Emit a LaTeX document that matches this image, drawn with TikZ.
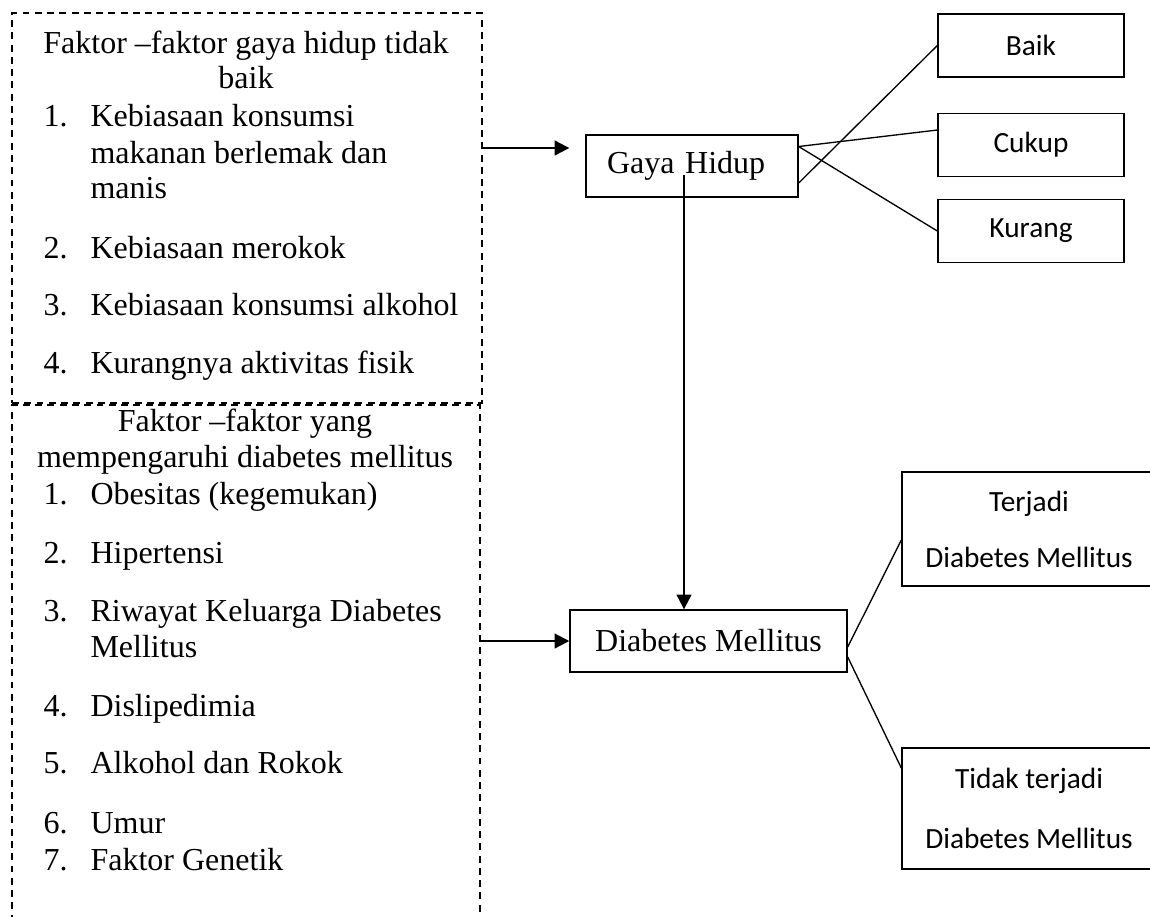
\documentclass[tikz,border=0pt]{standalone}
\usepackage{fontspec}
\setmainfont{Liberation Serif}
\newfontfamily\calfont{Carlito}
\usetikzlibrary{arrows.meta,calc}

\tikzset{
  dbox/.style={draw, dash pattern=on 2.6pt off 2pt, line width=0.4pt, inner sep=0pt},
  rbox/.style={draw, line width=0.5pt, inner sep=0pt, font=\fontsize{12}{14}\selectfont},
  obox/.style={rbox, minimum width=69.75pt, minimum height=23.6pt, font=\calfont\fontsize{11}{13}\selectfont},
  dmbox/.style={rbox, minimum width=95.25pt, align=center, font=\calfont\fontsize{11}{21}\selectfont},
  txt/.style={anchor=base west, inner sep=0pt, font=\fontsize{12}{14}\selectfont},
  ttl/.style={txt, anchor=base},
  arr/.style={-{Triangle[length=5.5pt,width=5.5pt]}, line width=0.75pt},
  ln/.style={line width=0.5pt}
}

\begin{document}
\begin{tikzpicture}[x=0.375pt, y=-0.375pt]
    \useasboundingbox (0,0) rectangle (1150,916);
    \node[dbox, minimum width=176.25pt, minimum height=146.25pt] (fak1) at (247,208) {};
    \node[dbox, minimum width=175.5pt, minimum height=193.9pt] (fak2) at (246,663.5) {};

    \node[ttl] (t1a) at (246,53) {Faktor –faktor gaya hidup tidak};
    \node[ttl] (t1b) at (246,88) {baik};
    \foreach \n/\y in {1/126,2/258,3/315,4/373}
        \node[txt] (gn\n) at (43,\y) {\n.};
    \foreach \y/\t [count=\i] in {126/Kebiasaan konsumsi, 163/makanan berlemak dan, 198/manis, 258/Kebiasaan merokok, 315/Kebiasaan konsumsi alkohol, 373/Kurangnya aktivitas fisik}
        \node[txt] (gt\i) at (90,\y) {\t};

    \node[ttl] (t2a) at (245,431) {Faktor –faktor yang};
    \node[ttl] (t2b) at (245,467) {mempengaruhi diabetes mellitus};
    \foreach \n/\y in {1/504,2/563,3/621,4/716,5/773,6/833,7/870}
        \node[txt] (dn\n) at (43,\y) {\n.};
    \foreach \y/\t [count=\i] in {504/Obesitas (kegemukan), 563/Hipertensi, 621/Riwayat Keluarga Diabetes, 657/Mellitus, 716/Dislipedimia, 773/Alkohol dan Rokok, 833/Umur, 870/Faktor Genetik}
        \node[txt] (dt\i) at (90,\y) {\t};

    \node[rbox, minimum width=79.5pt, minimum height=23.25pt, text width=63.7pt, inner xsep=7.9pt, align=left] (gaya) at (692,166) {Gaya Hidup};
    \node[rbox, minimum width=103.9pt, minimum height=23.25pt] (dm) at (708.5,641) {Diabetes Mellitus};
    \node[obox] (baik) at (1031,45.5) {Baik};
    \node[obox] (cukup) at (1031,145) {Cukup};
    \node[obox] (kurang) at (1031,231) {Kurang};
    \node[dmbox, minimum height=42.75pt] (ya) at (1029,529) {Terjadi\\Diabetes Mellitus};
    \node[dmbox, minimum height=45.4pt, font=\calfont\fontsize{11}{22.5}\selectfont] (tidak) at (1029,808.5) {Tidak terjadi\\Diabetes Mellitus};

    \coordinate (gin) at ($(gaya.west)+(-16,-18)$);
    \draw[arr] (fak1.east |- gin) -- (gin);
    \draw[arr] (fak2.east |- dm.west) -- (dm.west);
    \coordinate (vs) at ($(gaya.center)+(-8,9)$);
    \draw[arr] (vs) -- (vs |- dm.north);

    \coordinate (gout) at ($(gaya.east)+(0,-19.5)$);
    \draw[ln] ($(gaya.east)+(0,17)$) -- (baik.west);
    \draw[ln] (gout) -- ($(cukup.west)+(0,-15)$);
    \draw[ln] (gout) -- (kurang.west);
    \draw[ln] ($(dm.east)+(0,6)$) -- ($(ya.west)+(0,11)$);
    \draw[ln] ($(dm.east)+(0,16)$) -- ($(tidak.west)+(0,-40.5)$);
\end{tikzpicture}
\end{document}
